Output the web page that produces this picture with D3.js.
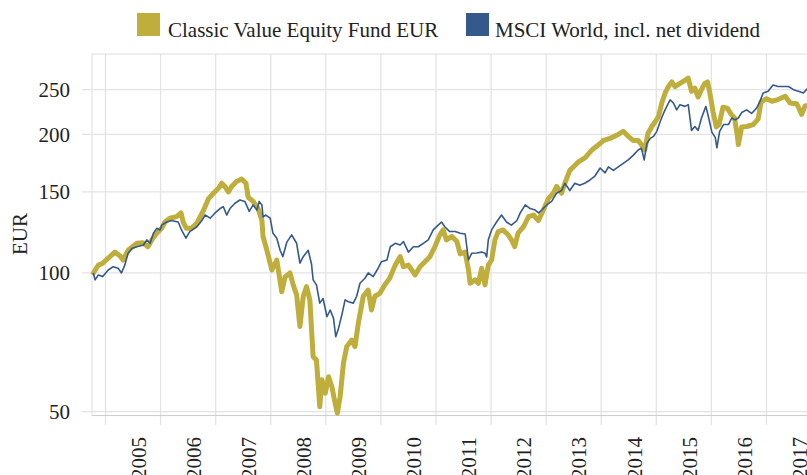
<!DOCTYPE html>
<html>
<head>
<meta charset="utf-8">
<script src="https://cdn.jsdelivr.net/npm/d3@7"></script>
<style>
  html, body { margin: 0; padding: 0; background: #fff; }
  svg { display: block; font-family: "Liberation Serif", "DejaVu Serif", serif; }
</style>
</head>
<body>
<svg id="chart" width="807" height="475"></svg>
<script>
// ---- data (decimal year, indexed EUR value) ----
const fundYears = [2004.78,2004.87,2004.95,2005.08,2005.17,2005.26,2005.32,2005.41,2005.57,2005.68,2005.77,2005.86,2005.93,2006.02,2006.08,2006.17,2006.29,2006.37,2006.41,2006.47,2006.56,2006.66,2006.77,2006.87,2006.96,2007.05,2007.11,2007.17,2007.23,2007.29,2007.38,2007.47,2007.55,2007.59,2007.68,2007.77,2007.84,2007.86,2007.93,2008.02,2008.11,2008.20,2008.26,2008.35,2008.41,2008.47,2008.53,2008.59,2008.65,2008.71,2008.77,2008.83,2008.89,2008.93,2008.99,2009.05,2009.11,2009.17,2009.21,2009.26,2009.32,2009.38,2009.47,2009.53,2009.59,2009.68,2009.77,2009.83,2009.89,2009.98,2010.07,2010.16,2010.26,2010.35,2010.41,2010.50,2010.62,2010.71,2010.80,2010.89,2010.98,2011.07,2011.13,2011.19,2011.29,2011.38,2011.44,2011.53,2011.59,2011.62,2011.71,2011.77,2011.83,2011.89,2011.95,2012.01,2012.07,2012.13,2012.22,2012.31,2012.37,2012.43,2012.49,2012.59,2012.68,2012.77,2012.86,2012.95,2013.04,2013.13,2013.19,2013.28,2013.34,2013.43,2013.58,2013.71,2013.83,2013.98,2014.04,2014.16,2014.28,2014.40,2014.49,2014.58,2014.67,2014.73,2014.79,2014.85,2014.92,2014.98,2015.04,2015.10,2015.16,2015.22,2015.28,2015.34,2015.43,2015.52,2015.58,2015.64,2015.70,2015.76,2015.82,2015.88,2015.93,2015.97,2016.03,2016.09,2016.14,2016.21,2016.29,2016.36,2016.42,2016.47,2016.49,2016.55,2016.64,2016.76,2016.85,2016.90,2017.00,2017.10,2017.21,2017.34,2017.43,2017.55,2017.64,2017.70,2017.83];
const fundValues = [100,104,105,108.5,111,109,106.7,112,116,116.3,114,119,122,125,129,131.5,132.5,135,129,125,125,128.4,136,145,149,152.7,156.6,154,150,154,158,160,156.6,146,143,138,130,120,112,101.5,106.7,91,98,100,94,89.6,76.5,89,93.4,87.4,65.8,64.7,51.2,58.6,54.8,59.5,56.6,52.1,49.6,53.9,63.7,69.2,71.5,69.2,77.8,89,91.8,83.1,89,90.3,94.2,97.4,104,108.5,103.2,104,99,103.2,105.8,108.5,114,121,124,118,120,117,110,111,101.5,95,96.6,95,102.4,94.2,104,106.7,118,123,124,121,118,114,122,126,132.5,133.6,130,137,145,149,154,149,156.6,167,174,178,185,191,194,196,199,203,198,194,194,190,185,201,208,213,218.5,234,246,254,260,254,258,262,265,248,252,241,250,258,260,247,224,207.5,210,229,228,221,217,199,190,207.5,208,210,216,235,239,236,238,242,234,233,221,230.5,232];

const msciYears = [2004.78,2004.81,2004.87,2004.95,2005.05,2005.14,2005.23,2005.29,2005.35,2005.41,2005.48,2005.57,2005.69,2005.75,2005.81,2005.87,2005.93,2005.99,2006.02,2006.11,2006.20,2006.32,2006.38,2006.46,2006.53,2006.66,2006.75,2006.81,2006.90,2006.99,2007.08,2007.14,2007.20,2007.26,2007.35,2007.44,2007.53,2007.61,2007.68,2007.75,2007.79,2007.84,2007.86,2007.91,2007.99,2008.04,2008.11,2008.17,2008.22,2008.29,2008.38,2008.47,2008.53,2008.59,2008.68,2008.74,2008.77,2008.83,2008.89,2008.95,2009.02,2009.08,2009.14,2009.18,2009.23,2009.29,2009.35,2009.41,2009.50,2009.56,2009.62,2009.71,2009.77,2009.86,2009.95,2010.01,2010.11,2010.17,2010.26,2010.35,2010.41,2010.50,2010.59,2010.68,2010.77,2010.86,2010.95,2011.04,2011.10,2011.16,2011.25,2011.35,2011.44,2011.53,2011.59,2011.65,2011.74,2011.83,2011.89,2011.92,2011.95,2012.01,2012.10,2012.19,2012.28,2012.37,2012.47,2012.53,2012.62,2012.71,2012.80,2012.86,2012.92,2013.01,2013.10,2013.19,2013.28,2013.34,2013.43,2013.52,2013.61,2013.70,2013.79,2013.88,2013.98,2014.07,2014.13,2014.22,2014.31,2014.40,2014.49,2014.58,2014.67,2014.73,2014.78,2014.83,2014.89,2014.95,2015.01,2015.07,2015.13,2015.19,2015.25,2015.31,2015.37,2015.43,2015.52,2015.58,2015.64,2015.70,2015.76,2015.82,2015.90,2015.94,2016.01,2016.07,2016.10,2016.15,2016.22,2016.31,2016.37,2016.43,2016.49,2016.55,2016.64,2016.73,2016.82,2016.88,2016.94,2017.03,2017.12,2017.21,2017.31,2017.40,2017.49,2017.58,2017.67,2017.74,2017.83];
const msciValues = [100,96.6,99,98.2,101.5,103.2,102.4,100,104,110.4,113,114,115,118,116,122,125,124,127,129,130,129,124,119,123,126,130,133.6,131.5,135,138,139.3,133.6,138,141.7,144,143,136,140.5,137,143,140.5,132.3,133.6,131.5,122,119,112,108.5,116.5,121,116,105,108.5,112,104.6,96.6,94.2,86,88,80.4,83.1,79.7,72.7,75.8,81,87.4,86.6,86,89,95,97.4,100,98.2,102.4,105.8,106.7,114,116,115,117,111,114,114,116,118,124,127,129,126,123,123,122,121.5,106.7,110.4,110.5,111,110.4,108.3,118,124,129,133.6,129,127,130,135,140.5,138,137,135,137,140.5,143,149,151,156.6,151,156.6,155,156.6,159,162,169,165,170,167,170,173,176,180,185,186.5,176,191,196,198,203,213,222,230,237.5,234,226,232,230,232,204,208,204,217,230,220,202,197,187,203,210,210,217,215,217,223,226,222,228,235.5,246,248,256,254,254,254,250,248,246,251,252];

const yearTicks = [2005,2006,2007,2008,2009,2010,2011,2012,2013,2014,2015,2016,2017];
const yTickValues = [50,100,150,200,250];
const seriesNames = ["Classic Value Equity Fund EUR","MSCI World, incl. net dividend"];
const seriesColors = ["#BFAD3C","#34598A"];
const yAxisTitle = "EUR";

// ---- layout ----
const svg = d3.select("#chart");
const panel = {left: 92, top: 54, right: 840, bottom: 415.5};
const x = d3.scaleLinear().domain([2005, 2017]).range([105.5, 105.5 + 12 * 55.08]);
const y = d3.scaleLog().domain([50, 250]).range([411.6, 89.7]);
const gridColor = "#E3E3E3";

// panel border
svg.append("rect")
  .attr("x", panel.left).attr("y", panel.top)
  .attr("width", panel.right - panel.left).attr("height", panel.bottom - panel.top)
  .attr("fill", "none").attr("stroke", gridColor).attr("stroke-width", 1.2);

// horizontal grid + ticks
svg.append("g").selectAll("line").data(yTickValues).join("line")
  .attr("x1", 82).attr("x2", panel.right)
  .attr("y1", d => y(d)).attr("y2", d => y(d))
  .attr("stroke", gridColor).attr("stroke-width", 1.3);

// vertical grid + ticks
svg.append("g").selectAll("line").data(yearTicks).join("line")
  .attr("x1", d => x(d)).attr("x2", d => x(d))
  .attr("y1", panel.top).attr("y2", 425)
  .attr("stroke", gridColor).attr("stroke-width", 1.3);

// bottom axis line
svg.append("line")
  .attr("x1", panel.left).attr("x2", panel.right)
  .attr("y1", panel.bottom).attr("y2", panel.bottom)
  .attr("stroke", "#CFCFCF").attr("stroke-width", 1.2);

// y tick labels
svg.append("g").selectAll("text").data(yTickValues).join("text")
  .attr("x", 70).attr("y", d => y(d)).attr("dy", "0.35em")
  .attr("text-anchor", "end").attr("font-size", 21).attr("fill", "#222")
  .text(d => d);

// x tick labels (rotated, offset to the right of gridline)
svg.append("g").selectAll("text").data(yearTicks).join("text")
  .attr("transform", d => `translate(${x(d) + 33},437) rotate(-90)`)
  .attr("dy", "0.35em")
  .attr("text-anchor", "end").attr("font-size", 21).attr("fill", "#222")
  .text(d => d);

// y axis title
svg.append("text")
  .attr("transform", "translate(20,234) rotate(-90)")
  .attr("dy", "0.35em").attr("text-anchor", "middle")
  .attr("font-size", 21).attr("fill", "#222")
  .text(yAxisTitle);

// lines
const fundData = fundYears.map((t, i) => [t, fundValues[i]]);
const msciData = msciYears.map((t, i) => [t, msciValues[i]]);
const line = d3.line().x(d => x(d[0])).y(d => y(d[1]));

svg.append("path").datum(fundData)
  .attr("d", line).attr("fill", "none")
  .attr("stroke", seriesColors[0]).attr("stroke-width", 5)
  .attr("stroke-linejoin", "round").attr("stroke-linecap", "round");

svg.append("path").datum(msciData)
  .attr("d", line).attr("fill", "none")
  .attr("stroke", seriesColors[1]).attr("stroke-width", 1.6)
  .attr("stroke-linejoin", "round");

// legend
const legendItems = [
  {name: seriesNames[0], color: seriesColors[0], sx: 137, tx: 168},
  {name: seriesNames[1], color: seriesColors[1], sx: 466, tx: 495}
];
const lg = svg.append("g");
legendItems.forEach(it => {
  lg.append("rect").attr("x", it.sx).attr("y", 13).attr("width", 23).attr("height", 23).attr("fill", it.color);
  lg.append("text").attr("x", it.tx).attr("y", 36.5).attr("font-size", 21).attr("fill", "#222").text(it.name);
});
</script>
</body>
</html>
